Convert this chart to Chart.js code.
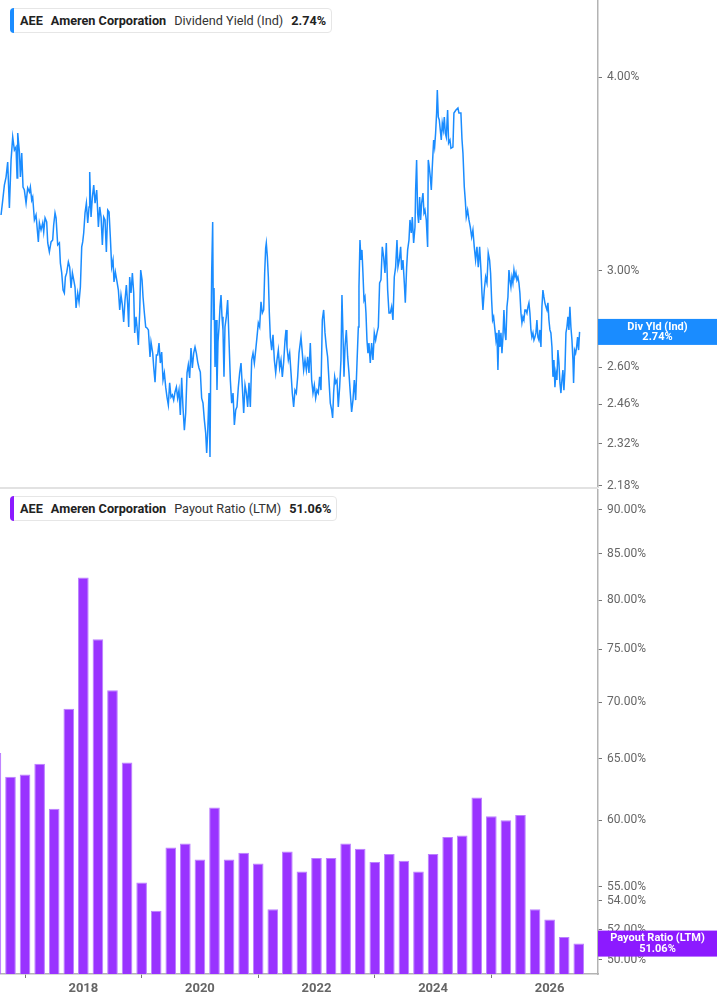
<!DOCTYPE html>
<html>
<head>
<meta charset="utf-8">
<script src="https://cdn.jsdelivr.net/npm/chart.js@4.4.1/dist/chart.umd.min.js"></script>
<style>
  body { margin: 0; width: 717px; height: 1005px; overflow: hidden; background: #fff; font-family: Roboto, sans-serif; }
  .panel { position: absolute; left: 0; width: 717px; }
  .sep { position: absolute; left: 0; top: 487px; width: 598px; height: 2px; background: #e2e2e2; }
  .tag { position: absolute; left: 10px; height: 23px; line-height: 23px; padding: 0 5px 0 9px;
         border: 1px solid #e6e6e6; border-radius: 4px; background: #fff; font-size: 12.7px; color: #333; white-space: nowrap; }
  .tag::before { content: ""; position: absolute; left: -1px; top: -1px; bottom: -1px; width: 4px; border-radius: 4px 0 0 4px; }
  .tag.blue::before { background: #1a8cff; }
  .tag.purple::before { background: #8c1aff; }
  .tag span { margin-right: 8px; }
  .tag span:last-child { margin-right: 0; }
  .tag .b { font-weight: 700; color: #222; }
</style>
</head>
<body>
<div class="panel" style="top:0;height:497px"><canvas id="yieldChart"></canvas></div>
<div class="panel" style="top:489px;height:516px"><canvas id="payoutChart"></canvas></div>
<div class="sep"></div>

<div class="tag blue" style="top:8px"><span class="b">AEE</span><span class="b">Ameren Corporation</span><span>Dividend Yield (Ind)</span><span class="b">2.74%</span></div>
<div class="tag purple" style="top:496px"><span class="b">AEE</span><span class="b">Ameren Corporation</span><span>Payout Ratio (LTM)</span><span class="b">51.06%</span></div>

<script>
Chart.defaults.font.family = "Roboto";
Chart.defaults.animation = false;

// dividend yield (ind), dates in decimal years
var yieldDates = [
  2016.588, 2016.617, 2016.645, 2016.674, 2016.702, 2016.731, 2016.760, 2016.788, 2016.817, 2016.845,
  2016.863, 2016.874, 2016.903, 2016.920, 2016.943, 2016.965, 2016.988, 2017.017, 2017.045, 2017.074,
  2017.091, 2017.114, 2017.131, 2017.160, 2017.188, 2017.206, 2017.228, 2017.246, 2017.274, 2017.303,
  2017.320, 2017.343, 2017.371, 2017.389, 2017.417, 2017.446, 2017.474, 2017.491, 2017.514, 2017.532,
  2017.560, 2017.589, 2017.606, 2017.629, 2017.652, 2017.674, 2017.692, 2017.714, 2017.743, 2017.766,
  2017.789, 2017.812, 2017.835, 2017.857, 2017.875, 2017.903, 2017.926, 2017.949, 2017.972, 2017.989,
  2018.006, 2018.029, 2018.052, 2018.075, 2018.098, 2018.109, 2018.132, 2018.155, 2018.178, 2018.201,
  2018.229, 2018.258, 2018.281, 2018.304, 2018.326, 2018.349, 2018.372, 2018.395, 2018.418, 2018.441,
  2018.463, 2018.486, 2018.509, 2018.526, 2018.549, 2018.578, 2018.601, 2018.624, 2018.646, 2018.669,
  2018.692, 2018.715, 2018.738, 2018.761, 2018.778, 2018.795, 2018.818, 2018.841, 2018.864, 2018.881,
  2018.904, 2018.921, 2018.944, 2018.967, 2018.984, 2019.007, 2019.024, 2019.047, 2019.070, 2019.093,
  2019.116, 2019.144,
  2019.161, 2019.190, 2019.207, 2019.230, 2019.253, 2019.275, 2019.298, 2019.321, 2019.344, 2019.367,
  2019.390, 2019.413, 2019.435, 2019.458, 2019.481, 2019.504, 2019.527, 2019.550, 2019.573, 2019.596,
  2019.618, 2019.641, 2019.664, 2019.687, 2019.710, 2019.733, 2019.756, 2019.779, 2019.801, 2019.824,
  2019.847, 2019.870, 2019.893, 2019.916, 2019.939, 2019.962, 2019.984, 2020.007, 2020.030, 2020.053,
  2020.076, 2020.099, 2020.116, 2020.133, 2020.156, 2020.173, 2020.190, 2020.202, 2020.219, 2020.230,
  2020.242, 2020.259, 2020.276, 2020.293, 2020.310, 2020.328, 2020.345, 2020.362, 2020.379, 2020.396,
  2020.413, 2020.430, 2020.453, 2020.476, 2020.499, 2020.522, 2020.545, 2020.568, 2020.591, 2020.614,
  2020.636, 2020.659, 2020.682, 2020.705, 2020.728, 2020.751, 2020.774, 2020.797, 2020.819, 2020.842,
  2020.865, 2020.888, 2020.911, 2020.934, 2020.957, 2020.979, 2021.002, 2021.025, 2021.048, 2021.071,
  2021.094, 2021.111, 2021.128, 2021.139, 2021.157, 2021.174, 2021.191, 2021.208, 2021.231, 2021.254,
  2021.277, 2021.300, 2021.322, 2021.345, 2021.368, 2021.391, 2021.414, 2021.437, 2021.460, 2021.477,
  2021.494, 2021.517, 2021.540, 2021.563, 2021.585, 2021.608, 2021.631, 2021.654, 2021.677, 2021.700,
  2021.734, 2021.757, 2021.780, 2021.803, 2021.826, 2021.848, 2021.871, 2021.894, 2021.917, 2021.940,
  2021.963, 2021.986, 2022.009, 2022.031, 2022.054, 2022.077, 2022.100, 2022.123, 2022.146, 2022.169,
  2022.191, 2022.214, 2022.237, 2022.260, 2022.277, 2022.294, 2022.312, 2022.329, 2022.352, 2022.374,
  2022.397, 2022.420, 2022.437, 2022.454, 2022.472, 2022.489, 2022.512, 2022.535, 2022.557, 2022.580,
  2022.603, 2022.626, 2022.649, 2022.672, 2022.695, 2022.718, 2022.729, 2022.746, 2022.763, 2022.780,
  2022.797, 2022.815, 2022.832, 2022.849, 2022.866, 2022.883, 2022.900, 2022.923, 2022.946, 2022.969,
  2022.992, 2023.015, 2023.038, 2023.061, 2023.083, 2023.106, 2023.129, 2023.152, 2023.175, 2023.198,
  2023.221, 2023.244, 2023.266, 2023.289, 2023.312, 2023.335, 2023.358, 2023.381, 2023.398, 2023.421,
  2023.444, 2023.461, 2023.484, 2023.507, 2023.524, 2023.547, 2023.564, 2023.587, 2023.604, 2023.627,
  2023.644, 2023.667, 2023.690, 2023.701, 2023.718, 2023.735, 2023.752, 2023.770, 2023.787, 2023.804,
  2023.827, 2023.844, 2023.861, 2023.884, 2023.907, 2023.918, 2023.935, 2023.953, 2023.970, 2023.987,
  2024.010, 2024.027, 2024.044, 2024.061, 2024.073, 2024.090, 2024.107, 2024.124, 2024.141, 2024.158,
  2024.176, 2024.193, 2024.210, 2024.227, 2024.250, 2024.267, 2024.290, 2024.307, 2024.341, 2024.358,
  2024.393, 2024.427, 2024.444, 2024.478, 2024.496, 2024.513, 2024.536, 2024.553, 2024.570, 2024.593,
  2024.616, 2024.639, 2024.662, 2024.684, 2024.707, 2024.730, 2024.753, 2024.776, 2024.799, 2024.822,
  2024.839, 2024.856, 2024.879, 2024.902, 2024.925, 2024.947, 2024.970, 2024.987, 2025.005, 2025.022,
  2025.039, 2025.062, 2025.079, 2025.096, 2025.113, 2025.130, 2025.147, 2025.165, 2025.182, 2025.199,
  2025.216, 2025.233, 2025.250, 2025.268, 2025.285, 2025.302, 2025.319, 2025.336, 2025.353, 2025.370,
  2025.388, 2025.405, 2025.422, 2025.439, 2025.456, 2025.473, 2025.490, 2025.508, 2025.525, 2025.542,
  2025.559, 2025.576, 2025.593, 2025.611, 2025.628, 2025.645, 2025.662, 2025.679, 2025.696, 2025.714,
  2025.731, 2025.748, 2025.765, 2025.782, 2025.799, 2025.816, 2025.834, 2025.851, 2025.868, 2025.885,
  2025.902, 2025.919, 2025.937, 2025.954, 2025.971, 2025.988, 2026.005, 2026.022, 2026.040, 2026.057,
  2026.074, 2026.091, 2026.108, 2026.125, 2026.142, 2026.160, 2026.177, 2026.194, 2026.211, 2026.228,
  2026.245, 2026.263, 2026.280, 2026.297, 2026.314, 2026.331, 2026.348, 2026.365, 2026.383, 2026.400,
  2026.411, 2026.428, 2026.446, 2026.463, 2026.480, 2026.497, 2026.514
];
var yieldValues = [
  3.260, 3.333, 3.408, 3.449, 3.527, 3.294, 3.538, 3.660, 3.590, 3.606,
  3.444, 3.682, 3.580, 3.449, 3.574, 3.398, 3.383, 3.318, 3.393, 3.373,
  3.398, 3.333, 3.348, 3.236, 3.260, 3.202, 3.132, 3.222, 3.188, 3.222,
  3.179, 3.246, 3.226, 3.127, 3.086, 3.132, 3.141, 3.212, 3.270, 3.246,
  3.118, 3.127, 3.035, 2.991, 2.916, 2.903, 2.973, 2.991, 3.040, 3.017,
  2.925, 2.991, 2.960, 2.929, 2.839, 2.903, 2.865, 2.929, 3.109, 3.132,
  3.174, 3.270, 3.318, 3.222, 3.299, 3.475, 3.250, 3.348, 3.408, 3.318,
  3.383, 3.202, 3.299, 3.250, 3.118, 3.250, 3.236, 3.086, 3.284, 3.274,
  3.155, 3.017, 3.049, 2.951, 2.995, 2.951, 2.916, 2.831, 2.894, 2.852,
  2.781, 2.873, 2.938, 2.852, 2.760, 2.973, 2.903, 2.991, 2.903, 2.736,
  2.802, 2.760, 2.687, 2.823, 3.004, 2.960, 2.886, 2.818, 2.760, 2.756,
  2.748, 2.640,
  2.699, 2.655, 2.601, 2.543, 2.648, 2.648, 2.695, 2.616, 2.659, 2.551,
  2.578, 2.524, 2.487, 2.458, 2.540, 2.487, 2.495, 2.476, 2.506, 2.524,
  2.483, 2.513, 2.422, 2.559, 2.447, 2.368, 2.429, 2.578, 2.609, 2.559,
  2.675, 2.597, 2.655, 2.679, 2.655, 2.620, 2.597, 2.581, 2.483, 2.465,
  2.404, 2.358, 2.289, 2.358, 2.502, 2.275, 2.736, 2.995, 3.226, 2.789,
  2.925, 2.601, 2.789, 2.513, 2.699, 2.760, 2.844, 2.894, 2.802, 2.748,
  2.563, 2.760, 2.802, 2.873, 2.707, 2.551, 2.465, 2.502, 2.386, 2.440,
  2.451, 2.524, 2.578, 2.616, 2.524, 2.429, 2.532, 2.502, 2.451, 2.540,
  2.451, 2.628, 2.655, 2.616, 2.667, 2.719, 2.777, 2.760, 2.865, 2.818,
  2.831, 2.991, 3.104, 3.127, 3.063, 2.973, 2.818, 2.719, 2.667, 2.728,
  2.628, 2.578, 2.628, 2.667, 2.597, 2.628, 2.563, 2.620, 2.707, 2.748,
  2.679, 2.628, 2.655, 2.578, 2.502, 2.451, 2.513, 2.502, 2.563, 2.655,
  2.719, 2.655, 2.589, 2.628, 2.589, 2.640, 2.578, 2.695, 2.551, 2.502,
  2.532, 2.483, 2.513, 2.502, 2.563, 2.513, 2.789, 2.831, 2.736, 2.679,
  2.640, 2.551, 2.465, 2.440, 2.411, 2.502, 2.563, 2.540, 2.551, 2.451,
  2.524, 2.628, 2.894, 2.736, 2.563, 2.679, 2.748, 2.640, 2.578, 2.502,
  2.433, 2.476, 2.551, 2.476, 2.616, 2.760, 2.929, 3.141, 3.049, 3.095,
  2.991, 2.873, 2.886, 2.818, 2.707, 2.655, 2.695, 2.616, 2.695, 2.628,
  2.736, 2.707, 2.736, 2.760, 2.947, 2.960, 3.109, 3.063, 2.991, 3.127,
  2.916, 2.818, 2.818, 2.844, 2.789, 2.973, 3.017, 3.141, 3.017, 3.049,
  3.109, 3.004, 3.049, 2.947, 2.861, 3.017, 3.095, 3.141, 3.236, 3.174,
  3.250, 3.127, 3.202, 3.383, 3.538, 3.270, 3.222, 3.348, 3.236, 3.318,
  3.368, 3.270, 3.284, 3.236, 3.109, 3.538, 3.501, 3.449, 3.383, 3.501,
  3.644, 3.606, 3.682, 3.793, 3.925, 3.771, 3.754, 3.699, 3.644, 3.737,
  3.699, 3.771, 3.682, 3.660, 3.810, 3.628, 3.644, 3.600, 3.606, 3.793,
  3.810, 3.821, 3.793, 3.793, 3.650, 3.574, 3.398, 3.333, 3.250, 3.284,
  3.236, 3.202, 3.155, 3.188, 3.109, 3.049, 3.109, 3.017, 3.109, 3.004,
  2.903, 2.831, 2.916, 2.973, 2.947, 3.081, 3.049, 2.991, 2.873, 2.789,
  2.802, 2.748, 2.707, 2.736, 2.589, 2.748, 2.679, 2.736, 2.655, 2.719,
  2.831, 2.736, 2.707, 2.844, 2.886, 3.004, 2.960, 2.929, 2.973, 2.947,
  3.004, 2.973, 2.991, 2.960, 2.973, 2.947, 2.903, 2.818, 2.777, 2.802,
  2.789, 2.831, 2.831, 2.818, 2.844, 2.861, 2.818, 2.748, 2.719, 2.736,
  2.707, 2.719, 2.736, 2.789, 2.719, 2.707, 2.748, 2.679, 2.844, 2.916,
  2.886, 2.861, 2.844, 2.831, 2.861, 2.789, 2.748, 2.736, 2.679, 2.563,
  2.628, 2.524, 2.578, 2.551, 2.667, 2.616, 2.540, 2.502, 2.551, 2.589,
  2.513, 2.589, 2.736, 2.760, 2.802, 2.748, 2.844, 2.760, 2.707, 2.628,
  2.540, 2.667, 2.655, 2.679, 2.719, 2.667, 2.740
];

// payout ratio (LTM), one bar a quarter
var payoutDates = [
  2016.5, 2016.75, 2017.0, 2017.25, 2017.5, 2017.75, 2018.0, 2018.25, 2018.5, 2018.75,
  2019.0, 2019.25, 2019.5, 2019.75, 2020.0, 2020.25, 2020.5, 2020.75, 2021.0, 2021.25,
  2021.5, 2021.75, 2022.0, 2022.25, 2022.5, 2022.75, 2023.0, 2023.25, 2023.5, 2023.75,
  2024.0, 2024.25, 2024.5, 2024.75, 2025.0, 2025.25, 2025.5, 2025.75, 2026.0, 2026.25,
  2026.5
];
var payoutValues = [
  65.5, 63.5, 63.7, 64.6, 60.9, 69.4, 82.4, 76.0, 71.1, 64.7,
  55.3, 53.3, 57.9, 58.2, 57.0, 61.0, 57.0, 57.5, 56.7, 53.4,
  57.6, 56.1, 57.1, 57.1, 58.2, 57.8, 56.8, 57.4, 56.9, 56.1,
  57.4, 58.7, 58.8, 61.8, 60.3, 60.0, 60.4, 53.4, 52.7, 51.5,
  51.06
];

var yearTicks = [2018, 2020, 2022, 2024, 2026];
var yieldTicks = [2.18, 2.32, 2.46, 2.60, 3.00, 4.00];
var payoutTicks = [50, 52, 54, 55, 60, 65, 70, 75, 80, 85, 90];

var xMin = 2016.57, xMax = 2026.83;
var BLUE = "#1a8cff", PURPLE = "#8c1aff";

// coloured box with the last value on the right axis
var lastValueTag = {
  id: "lastValueTag",
  afterDraw: function (chart, args, opts) {
    var ctx = chart.ctx;
    var y = chart.scales.y.getPixelForValue(opts.value);
    var left = chart.chartArea.right;
    var w = chart.width - left;
    ctx.save();
    ctx.fillStyle = opts.color;
    ctx.fillRect(left, y - 13, w, 26);
    ctx.fillStyle = "#fff";
    ctx.font = "bold 11px Roboto";
    ctx.textAlign = "center";
    ctx.textBaseline = "middle";
    ctx.fillText(opts.title, left + w / 2, y - 5);
    ctx.fillText(opts.value.toFixed(2) + "%", left + w / 2, y + 5.5);
    ctx.restore();
  },
};

function rightAxis(ticks, min, max) {
  return {
    type: "logarithmic",
    position: "right",
    min: min,
    max: max,
    bounds: "data",
    afterBuildTicks: function (scale) {
      scale.ticks = ticks.map(function (v) { return { value: v }; });
    },
    afterFit: function (scale) {
      // labels sit inside the axis, no room needed above/below
      scale.width = 119;
      scale.paddingTop = 0;
      scale.paddingBottom = 0;
    },
    border: { color: "#b3b3b3", width: 1.5 },
    grid: { drawOnChartArea: false, tickLength: 4, tickColor: "#777", tickWidth: 1 },
    ticks: {
      autoSkip: false,
      padding: 5,
      color: "#666",
      font: { size: 12 },
      callback: function (v) { return Number(v).toFixed(2) + "%"; },
    },
  };
}

new Chart("yieldChart", {
  type: "line",
  data: {
    datasets: [{
      data: yieldDates.map(function (d, i) { return { x: d, y: yieldValues[i] }; }),
      borderColor: BLUE,
      borderWidth: 1.5,
      pointRadius: 0,
      tension: 0,
    }],
  },
  plugins: [lastValueTag],
  options: {
    responsive: true,
    maintainAspectRatio: false,
    layout: { padding: { top: 0, left: 0, right: 0, bottom: 10 } },
    plugins: {
      legend: { display: false },
      tooltip: { enabled: false },
      lastValueTag: { value: 2.74, title: "Div Yld (Ind)", color: BLUE },
    },
    scales: {
      x: { type: "linear", min: xMin, max: xMax, display: false },
      y: rightAxis(yieldTicks, 2.176, 4.487),
    },
  },
});

new Chart("payoutChart", {
  type: "bar",
  data: {
    datasets: [{
      data: payoutDates.map(function (d, i) { return { x: d, y: payoutValues[i] }; }),
      backgroundColor: "#9933ff",
      borderColor: "#bb80ff",
      borderWidth: 1,
      categoryPercentage: 1,
      barPercentage: 0.73,
    }],
  },
  plugins: [lastValueTag],
  options: {
    responsive: true,
    maintainAspectRatio: false,
    layout: { padding: 0 },
    plugins: {
      legend: { display: false },
      tooltip: { enabled: false },
      lastValueTag: { value: 51.06, title: "Payout Ratio (LTM)", color: PURPLE },
    },
    scales: {
      x: {
        type: "linear",
        min: xMin,
        max: xMax,
        offset: false,
        bounds: "data",
        afterBuildTicks: function (scale) {
          scale.ticks = yearTicks.map(function (v) { return { value: v }; });
        },
        afterFit: function (scale) {
          scale.height = 31;
          scale.paddingLeft = 0;
          scale.paddingRight = 0;
        },
        border: { color: "#b3b3b3", width: 1.5 },
        grid: { drawOnChartArea: false, tickLength: 4, tickColor: "#777", tickWidth: 1 },
        ticks: {
          autoSkip: false,
          maxRotation: 0,
          padding: 3,
          color: "#666",
          font: { size: 13, weight: "bold" },
          callback: function (v) { return String(v); },
        },
      },
      y: rightAxis(payoutTicks, 49.07, 92.5),
    },
  },
});
</script>
</body>
</html>
